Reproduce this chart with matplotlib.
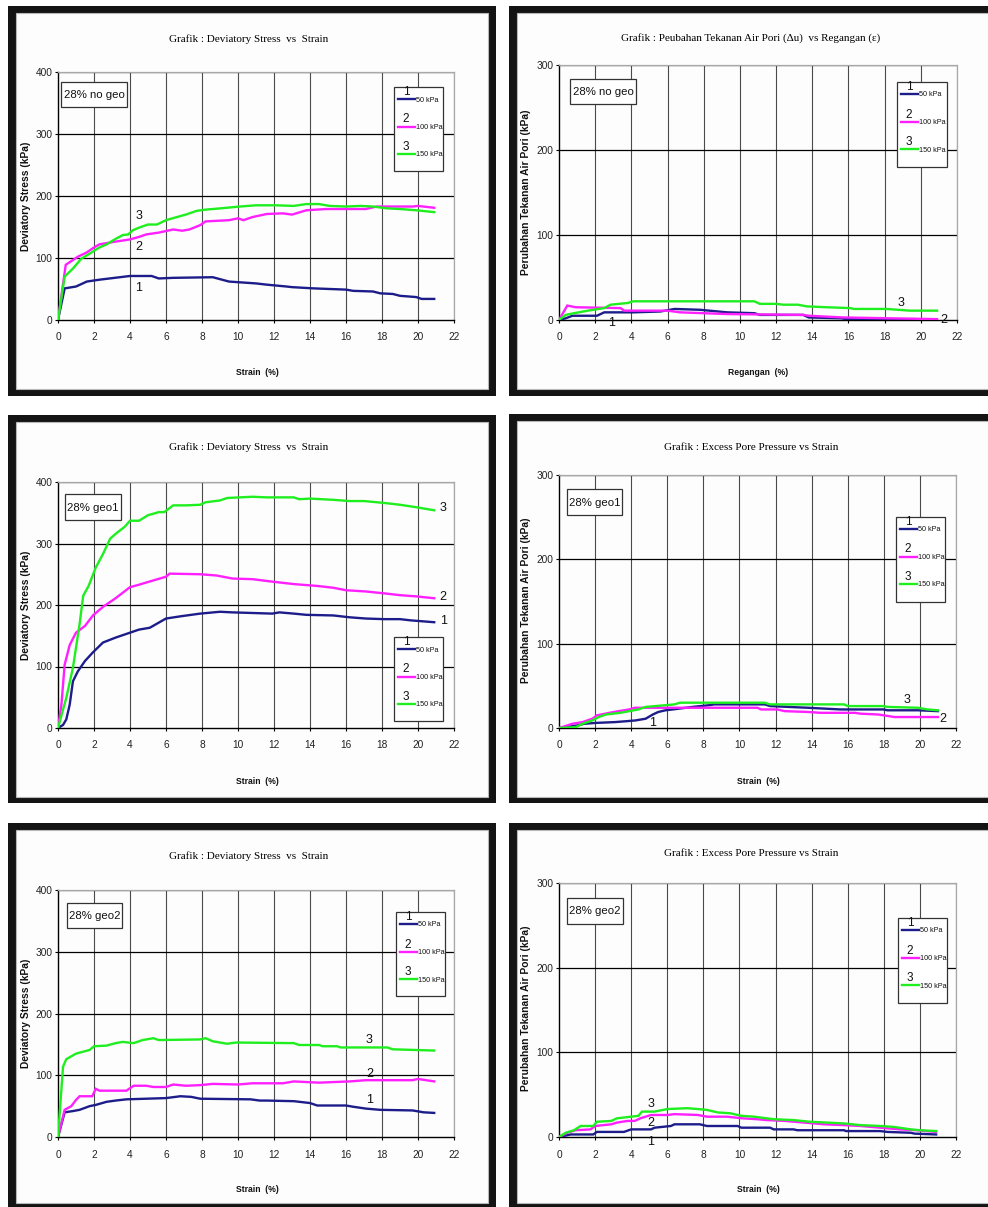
import matplotlib
matplotlib.use("Agg")
import matplotlib.pyplot as plt
from matplotlib.patches import Rectangle
from matplotlib.lines import Line2D
from matplotlib import font_manager as fm

W, H = 988, 1207

# ---------------------------------------------------------------------------
# Triaxial test readings: (strain %, value kPa) for each confining pressure
# ---------------------------------------------------------------------------
# 28% no geo - deviatory stress
DEV_NOGEO_50 = ([0, 0.37, 1.0, 1.6, 2.3, 4.0, 5.2, 5.6, 6.4, 8.6, 9.5, 11.0, 11.6, 12.7, 13.0, 14.2, 16.0, 16.4, 17.5, 17.9, 18.6, 19.0, 19.9, 20.2, 20.9],
                [0, 51, 54, 62, 65, 71, 71, 67, 68, 69, 62, 59, 57, 54, 53, 51, 49, 47, 46, 43, 42, 39, 37, 34, 34])
DEV_NOGEO_100 = ([0, 0.43, 0.74, 1.1, 1.6, 2.0, 2.3, 3.1, 4.0, 4.5, 4.9, 5.6, 6.4, 6.9, 7.3, 7.9, 8.2, 9.5, 10.0, 10.3, 10.8, 11.6, 12.5, 13.0, 13.8, 14.9, 17.1, 17.7, 19.7, 20.0, 20.9],
                 [0, 89, 95, 102, 109, 117, 122, 126, 130, 134, 138, 141, 146, 144, 146, 153, 159, 161, 164, 161, 166, 171, 172, 170, 177, 179, 179, 183, 183, 184, 181])
DEV_NOGEO_150 = ([0, 0.37, 0.83, 1.3, 1.76, 2.3, 2.7, 3.15, 3.6, 3.9, 4.17, 4.6, 5.0, 5.5, 6.0, 6.6, 7.1, 7.7, 8.2, 9.0, 10.1, 11.0, 12.1, 13.1, 13.8, 14.5, 15.1, 16.0, 16.8, 17.5, 18.3, 19.0, 19.9, 20.9],
                 [0, 70, 83, 99, 107, 117, 122, 130, 137, 138, 145, 150, 154, 154, 161, 166, 170, 176, 178, 180, 183, 185, 185, 184, 187, 187, 184, 183, 184, 183, 180, 179, 177, 174])

# 28% no geo - pore pressure change
PWP_NOGEO_50 = ([0, 0.37, 0.74, 2.1, 2.5, 4.1, 5.6, 6.4, 7.8, 9.3, 10.8, 11.1, 13.5, 13.8, 15.6, 15.9, 19.7],
                [0, 2, 5, 5, 9, 9, 10, 13, 12, 9, 8, 6, 6, 3, 2, 1, 1])
PWP_NOGEO_100 = ([0, 0.46, 0.92, 3.4, 3.6, 6.0, 6.7, 8.0, 9.3, 13.5, 13.8, 15.7, 20.9],
                 [0, 17, 15, 14, 11, 11, 9, 8, 7, 6, 5, 3, 1])
PWP_NOGEO_150 = ([0, 0.37, 0.83, 1.6, 2.5, 2.85, 3.8, 4.1, 10.8, 11.1, 12.0, 12.4, 13.2, 13.7, 14.8, 16.1, 16.3, 18.1, 19.4, 20.9],
                 [0, 6, 8, 11, 14, 18, 20, 22, 22, 19, 19, 18, 18, 16, 15, 14, 13, 13, 11, 11])

# 28% geo1 - deviatory stress
DEV_GEO1_50 = ([0, 0.28, 0.46, 0.65, 0.83, 1.1, 1.5, 1.94, 2.5, 3.2, 4.0, 4.5, 5.1, 5.4, 6.0, 6.9, 7.9, 9.0, 9.7, 11.9, 12.3, 13.1, 13.8, 15.3, 16.2, 17.1, 18.1, 19.0, 19.6, 20.9],
               [0, 5, 14, 38, 76, 92, 109, 123, 139, 147, 155, 160, 163, 168, 178, 182, 186, 189, 188, 186, 188, 186, 184, 183, 180, 178, 177, 177, 175, 172])
DEV_GEO1_100 = ([0, 0.19, 0.37, 0.65, 1.0, 1.5, 1.94, 2.5, 3.2, 4.0, 4.5, 5.3, 6.0, 6.2, 7.9, 8.8, 9.7, 10.8, 11.9, 13.1, 14.4, 15.3, 16.0, 17.1, 18.1, 19.0, 19.9, 20.9],
                [0, 38, 103, 135, 155, 166, 183, 197, 211, 229, 233, 240, 246, 251, 250, 248, 243, 242, 238, 234, 231, 228, 224, 222, 219, 216, 214, 211])
DEV_GEO1_150 = ([0, 0.46, 0.83, 1.2, 1.4, 1.7, 2.1, 2.5, 2.9, 3.3, 3.7, 4.0, 4.5, 5.0, 5.6, 5.9, 6.4, 7.1, 7.9, 8.2, 9.0, 9.4, 10.8, 11.6, 13.1, 13.4, 14.0, 15.3, 16.2, 17.0, 18.1, 19.0, 19.9, 20.9],
                [0, 49, 98, 169, 215, 231, 261, 283, 308, 318, 327, 337, 337, 346, 351, 351, 362, 362, 363, 367, 370, 374, 376, 375, 375, 372, 373, 371, 369, 369, 366, 363, 359, 354])

# 28% geo1 - pore pressure change
PWP_GEO1_50 = ([0, 1.0, 1.4, 2.0, 3.1, 3.7, 4.25, 4.8, 5.2, 5.5, 5.9, 6.3, 7.4, 8.3, 8.6, 11.4, 11.7, 12.7, 13.8, 15.6, 18.0, 18.2, 19.9, 21.0],
               [0, 3, 5, 6, 7, 8, 9, 11, 16, 19, 21, 22, 25, 27, 28, 28, 26, 25, 24, 22, 22, 21, 21, 20])
PWP_GEO1_100 = ([0, 0.46, 0.74, 1.3, 1.85, 2.1, 2.8, 3.3, 3.9, 4.2, 11.0, 11.2, 12.1, 12.5, 13.8, 14.5, 16.4, 16.7, 17.7, 18.0, 18.6, 21.0],
                [0, 3, 5, 7, 11, 15, 18, 20, 22, 24, 24, 22, 22, 20, 19, 18, 18, 17, 16, 15, 13, 13])
PWP_GEO1_150 = ([0, 0.93, 1.3, 1.85, 2.2, 2.6, 3.4, 3.9, 4.4, 4.8, 5.9, 6.4, 6.7, 11.4, 11.7, 15.8, 16.0, 18.0, 18.2, 19.9, 20.4, 21.0],
                [0, 1, 5, 9, 13, 16, 18, 20, 22, 25, 27, 28, 30, 30, 28, 28, 26, 26, 25, 24, 22, 21])

# 28% geo2 - deviatory stress
DEV_GEO2_50 = ([0, 0.37, 0.83, 1.2, 1.76, 2.1, 2.7, 3.2, 3.8, 6.0, 6.8, 7.4, 7.9, 10.7, 11.2, 11.6, 13.1, 14.0, 14.4, 16.0, 16.4, 17.1, 17.9, 19.7, 20.3, 20.9],
               [0, 40, 42, 44, 50, 52, 57, 59, 61, 63, 66, 65, 62, 61, 59, 59, 58, 55, 51, 51, 49, 46, 44, 43, 40, 39])
DEV_GEO2_100 = ([0, 0.37, 0.74, 1.0, 1.2, 1.9, 2.1, 2.3, 3.8, 4.2, 4.9, 5.3, 6.0, 6.4, 7.1, 7.9, 8.6, 10.0, 10.8, 12.5, 13.1, 14.5, 16.2, 17.1, 19.7, 20.0, 20.9],
                [0, 44, 50, 60, 66, 66, 78, 75, 75, 83, 83, 81, 81, 85, 83, 84, 86, 85, 87, 87, 90, 88, 90, 92, 92, 94, 90])
DEV_GEO2_150 = ([0, 0.28, 0.46, 1.0, 1.76, 2.0, 2.7, 3.2, 3.6, 4.2, 4.7, 5.3, 5.6, 7.9, 8.2, 8.6, 9.4, 9.9, 13.1, 13.4, 14.5, 14.7, 15.5, 15.7, 18.3, 18.6, 20.9],
                [0, 114, 126, 135, 141, 147, 148, 152, 154, 152, 157, 160, 157, 158, 160, 155, 151, 153, 152, 149, 149, 147, 147, 145, 145, 142, 140])

# 28% geo2 - pore pressure change
PWP_GEO2_50 = ([0, 0.65, 1.9, 2.1, 3.6, 4.0, 5.1, 5.3, 6.2, 6.4, 7.8, 8.2, 9.9, 10.1, 11.7, 11.9, 13.0, 13.2, 15.8, 15.9, 17.8, 18.2, 19.5, 19.7, 20.9],
               [0, 3, 3, 6, 6, 9, 9, 11, 13, 15, 15, 13, 13, 11, 11, 9, 9, 8, 8, 7, 7, 6, 5, 4, 3])
PWP_GEO2_100 = ([0, 0.46, 0.92, 1.75, 2.0, 2.9, 3.2, 3.8, 4.2, 4.5, 5.1, 6.0, 6.4, 7.7, 8.2, 9.3, 10.2, 11.0, 11.5, 12.5, 13.6, 14.7, 15.8, 16.7, 17.8, 18.9, 19.8, 20.9],
                [0, 5, 8, 9, 13, 15, 17, 19, 19, 22, 26, 26, 27, 26, 24, 24, 22, 21, 20, 19, 17, 15, 14, 13, 11, 9, 8, 6])
PWP_GEO2_150 = ([0, 0.37, 0.83, 1.2, 1.9, 2.1, 2.9, 3.2, 4.0, 4.4, 4.6, 5.3, 6.0, 7.1, 7.7, 8.2, 8.8, 9.5, 10.1, 10.8, 11.9, 13.0, 13.9, 14.9, 15.8, 16.7, 17.8, 18.5, 19.5, 20.0, 20.9],
                [0, 5, 8, 13, 13, 18, 19, 22, 24, 25, 30, 30, 33, 34, 33, 32, 29, 28, 25, 24, 21, 20, 18, 17, 16, 14, 13, 12, 9, 8, 7])

PRESSURE_LABELS = ["50 kPa", "100 kPa", "150 kPa"]
SERIES_TAGS = ["1", "2", "3"]
SAMPLE_TAGS = ["28% no geo", "28% geo1", "28% geo2"]

# ---------------------------------------------------------------------------
names = {f.name for f in fm.fontManager.ttflist}


def pick(*cands):
    for c in cands:
        if c in names:
            return c
    return "DejaVu Sans"


NARROW = pick("Liberation Sans Narrow", "DejaVu Sans Condensed", "Liberation Sans")
SANS = pick("Liberation Sans", "Arimo", "DejaVu Sans")
SERIF = pick("Liberation Serif", "DejaVu Serif")

COLORS = ["#1c1c8a", "#ff1fff", "#1fee1f"]

fig = plt.figure(figsize=(W / 100, H / 100), dpi=100)
fig.patch.set_facecolor("white")


def fx(x):
    return x / W


def fy(y):
    return 1 - y / H


def rect(x0, y0, x1, y1, **kw):
    r = Rectangle((fx(x0), fy(y1)), (x1 - x0) / W, (y1 - y0) / H,
                  transform=fig.transFigure, **kw)
    fig.add_artist(r)
    return r


def ftext(x, y, s, **kw):
    return fig.text(fx(x), fy(y), s, **kw)


DEV_TITLE = "Grafik : Deviatory Stress  vs  Strain"
PWP_TITLE_0 = "Grafik : Peubahan Tekanan Air Pori (\u0394u)  vs Regangan (\u03b5)"
PWP_TITLE = "Grafik : Excess Pore Pressure vs Strain"

panels = [
    dict(outer=(8, 6, 496, 396), inner=(16, 13, 488, 389), ax=(58, 72, 454, 320), ymax=400,
         title=DEV_TITLE, ty=39, tx=249, xl="Strain  (%)", xly=373, xlx=257,
         yl="Deviatory Stress (kPa)", ylx=26, yly=196, tag=SAMPLE_TAGS[0], tagbox=(61, 82, 127, 107),
         leg=(394, 87, 443, 171), series=[DEV_NOGEO_50, DEV_NOGEO_100, DEV_NOGEO_150],
         notes=[(4.5, 52), (4.5, 118), (4.5, 168)]),
    dict(outer=(509, 6, 1000, 396), inner=(517, 13, 993, 389), ax=(559, 65, 957, 320), ymax=300,
         title=PWP_TITLE_0, ty=38, tx=751, xl="Regangan  (%)", xly=373, xlx=758,
         yl="Perubahan Tekanan Air Pori (kPa)", ylx=526, yly=192, tag=SAMPLE_TAGS[0], tagbox=(570, 79, 636, 104),
         leg=(897, 82, 947, 167), series=[PWP_NOGEO_50, PWP_NOGEO_100, PWP_NOGEO_150],
         notes=[(2.9, -3), (21.25, 0), (18.9, 20)]),
    dict(outer=(8, 415, 496, 803), inner=(16, 422, 488, 797), ax=(58, 482, 454, 728), ymax=400,
         title=DEV_TITLE, ty=447, tx=249, xl="Strain  (%)", xly=781, xlx=257,
         yl="Deviatory Stress (kPa)", ylx=26, yly=605, tag=SAMPLE_TAGS[1], tagbox=(65, 494, 121, 520),
         leg=(394, 637, 443, 721), series=[DEV_GEO1_50, DEV_GEO1_100, DEV_GEO1_150],
         notes=[(21.4, 174), (21.4, 213), (21.4, 358)]),
    dict(outer=(509, 414, 1000, 803), inner=(517, 421, 993, 797), ax=(559, 475, 956, 728), ymax=300,
         title=PWP_TITLE, ty=447, tx=751, xl="Strain  (%)", xly=781, xlx=758,
         yl="Perubahan Tekanan Air Pori (kPa)", ylx=526, yly=600, tag=SAMPLE_TAGS[1], tagbox=(567, 489, 622, 515),
         leg=(896, 517, 945, 602), series=[PWP_GEO1_50, PWP_GEO1_100, PWP_GEO1_150],
         notes=[(5.2, 6), (21.25, 11), (19.3, 33)]),
    dict(outer=(8, 823, 496, 1215), inner=(16, 830, 488, 1203), ax=(58, 890, 454, 1137), ymax=400,
         title=DEV_TITLE, ty=856, tx=249, xl="Strain  (%)", xly=1190, xlx=257,
         yl="Deviatory Stress (kPa)", ylx=26, yly=1013, tag=SAMPLE_TAGS[2], tagbox=(67, 903, 122, 928),
         leg=(396, 912, 445, 996), series=[DEV_GEO2_50, DEV_GEO2_100, DEV_GEO2_150],
         notes=[(17.3, 60), (17.3, 102), (17.3, 157)]),
    dict(outer=(509, 823, 1000, 1215), inner=(517, 830, 993, 1203), ax=(559, 883, 956, 1137), ymax=300,
         title=PWP_TITLE, ty=854, tx=751, xl="Strain  (%)", xly=1190, xlx=758,
         yl="Perubahan Tekanan Air Pori (kPa)", ylx=526, yly=1008, tag=SAMPLE_TAGS[2], tagbox=(567, 898, 623, 924),
         leg=(898, 918, 947, 1003), series=[PWP_GEO2_50, PWP_GEO2_100, PWP_GEO2_150],
         notes=[(5.1, -6), (5.1, 17), (5.1, 39)]),
]

for p in panels:
    # black chart frame and white chart area
    rect(*p["outer"], facecolor="#141414", edgecolor="none", zorder=0)
    rect(*p["inner"], facecolor="#fdfdfd", edgecolor="#b8b8b8", lw=0.8, zorder=0.1)

    x0, y0, x1, y1 = p["ax"]
    ax = fig.add_axes([fx(x0), fy(y1), (x1 - x0) / W, (y1 - y0) / H])
    ax.set_facecolor("none")
    ax.set_zorder(2)
    ax.set_xlim(0, 22)
    ax.set_ylim(0, p["ymax"])
    ax.set_xticks(range(0, 23, 2))
    ax.set_yticks(range(0, p["ymax"] + 1, 100))
    for x in range(2, 23, 2):
        ax.axvline(x, color="#4a4a4a", lw=0.8, zorder=0.5)
    for y in range(100, p["ymax"] + 1, 100):
        ax.axhline(y, color="#000000", lw=0.9, zorder=0.5)
    for s in ("top", "right"):
        ax.spines[s].set_color("#a8a8a8")
        ax.spines[s].set_linewidth(0.9)
    for s in ("left", "bottom"):
        ax.spines[s].set_color("#000000")
        ax.spines[s].set_linewidth(1.0)
    ax.tick_params(axis="both", direction="out", length=2.5, width=0.8, labelsize=7.3,
                   colors="#000000", labelcolor="#222222")
    ax.tick_params(axis="x", pad=6.5)
    ax.tick_params(axis="y", pad=1.5)
    for lab in ax.get_xticklabels() + ax.get_yticklabels():
        lab.set_fontfamily(NARROW)

    for (xs, ys), c in zip(p["series"], COLORS):
        ax.plot(xs, ys, color=c, lw=1.7, solid_joinstyle="miter", zorder=3)

    for (nx, ny), t in zip(p["notes"], SERIES_TAGS):
        ax.text(nx, ny, t, ha="center", va="center", fontsize=9, family=NARROW,
                color="#111111", clip_on=False, zorder=4)

    # titles and axis labels
    ftext(p["tx"], p["ty"], p["title"], ha="center", va="center", fontsize=8,
          family=SERIF, color="#000000")
    ftext(p["xlx"], p["xly"], p["xl"], ha="center", va="center", fontsize=6.2,
          family=NARROW, weight="bold", color="#111111")
    ftext(p["ylx"], p["yly"], p["yl"], ha="center", va="center", fontsize=7.4,
          family=SANS, weight="bold", rotation=90, color="#111111")

    # sample tag box
    bx0, by0, bx1, by1 = p["tagbox"]
    rect(bx0, by0, bx1, by1, facecolor="white", edgecolor="#333333", lw=0.9, zorder=3)
    ftext((bx0 + bx1) / 2, (by0 + by1) / 2 + 0.5, p["tag"], ha="center", va="center",
          fontsize=8.2, family=NARROW, color="#111111", zorder=4)

    # legend box
    lx0, ly0, lx1, ly1 = p["leg"]
    rect(lx0, ly0, lx1, ly1, facecolor="white", edgecolor="#333333", lw=0.9, zorder=3)
    for i, (c, t, lab) in enumerate(zip(COLORS, SERIES_TAGS, PRESSURE_LABELS)):
        ly = ly0 + 12 + i * 27.5
        fig.add_artist(Line2D([fx(lx0 + 4), fx(lx0 + 21)], [fy(ly), fy(ly)],
                              transform=fig.transFigure, color=c, lw=1.7, zorder=4))
        ftext(lx0 + 12, ly - 1, t, ha="center", va="bottom", fontsize=8.5,
              family=NARROW, color="#111111", zorder=4)
        ftext(lx0 + 22, ly + 1, lab, ha="left", va="center", fontsize=5.2,
              family=NARROW, color="#111111", zorder=4)

fig.savefig("out.png", dpi=100, facecolor="white")
